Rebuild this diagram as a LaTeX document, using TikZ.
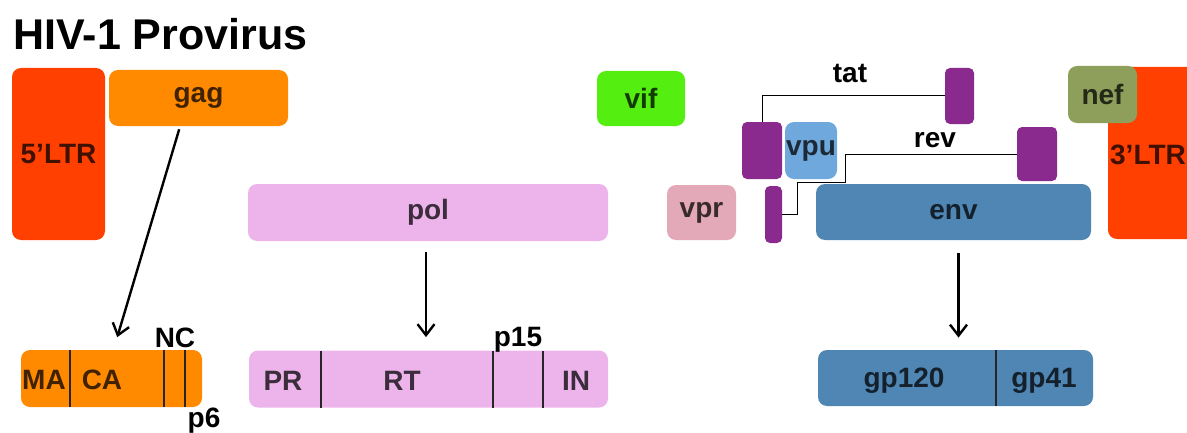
\documentclass[tikz,border=0pt]{standalone}
\usepackage{fontspec}
\setmainfont{Liberation Sans}
\usetikzlibrary{arrows.meta}
\definecolor{ltrred}{HTML}{FF4000}
\definecolor{gagorange}{HTML}{FF8A00}
\definecolor{vifgreen}{HTML}{55EE11}
\definecolor{polpink}{HTML}{EDB3EB}
\definecolor{vprpink}{HTML}{E3A9B9}
\definecolor{exonpurple}{HTML}{8B2A8E}
\definecolor{vpublue}{HTML}{6FA8DC}
\definecolor{envblue}{HTML}{5086B3}
\definecolor{nefolive}{HTML}{8E9F5C}

\begin{document}
\begin{tikzpicture}[x=0.5pt, y=-0.5pt,
    gene/.style={rounded corners=4.5pt, inner sep=0pt, fill=#1, text=#1!25!black,
        font=\bfseries\fontsize{14}{14}\selectfont},
    exon/.style={rounded corners=2.5pt, inner sep=0pt, fill=exonpurple},
    lbl/.style={inner sep=0pt, font=\bfseries\fontsize{14}{14}\selectfont},
    cut/.style={line width=1.1pt, draw=black!85},
    arr/.style={line width=1.2pt, -{Straight Barb[length=5.5pt,width=8.5pt]}},
    splice/.style={line width=0.5pt}]
    \clip (0,0) rectangle (1187,433);
    \node[lbl, anchor=base west, font=\bfseries\fontsize{21.5}{21.5}\selectfont] (title) at (13,50) {HIV-1 Provirus};
    \node[gene=ltrred, minimum width=46.5pt, minimum height=86pt] (ltr5) at (58.5,154) {5'LTR};
    \node[gene=gagorange, minimum width=89.5pt, minimum height=28pt] (gag) at (198.5,98) {gag};
    \node[gene=vifgreen, minimum width=44pt, minimum height=27.5pt] (vif) at (641,98.5) {vif};
    \node[gene=polpink, minimum width=180pt, minimum height=28.5pt] (pol) at (428,212.5) {pol};
    \node[gene=vprpink, minimum width=34.5pt, minimum height=27.5pt] (vpr) at (701.5,212.5) {vpr};
    \node[exon, minimum width=20pt, minimum height=28.5pt] (tat1) at (762,150.5) {};
    \node[gene=vpublue, minimum width=26pt, minimum height=28.5pt] (vpu) at (811,150.5) {vpu};
    \node[exon, minimum width=14.5pt, minimum height=28pt] (tat2) at (959.5,96) {};
    \node[exon, minimum width=8.5pt, minimum height=28.5pt] (rev1) at (773.5,214.5) {};
    \node[exon, minimum width=20pt, minimum height=27pt] (rev2) at (1037,154) {};
    \node[gene=envblue, minimum width=137.5pt, minimum height=28pt] (env) at (953.5,212) {env};
    \node[gene=ltrred, minimum width=48pt, minimum height=86pt] (ltr3) at (1156,153) {};
    \node[lbl, text=ltrred!25!black] (ltrthree) at (1148,155) {3'LTR};
    \node[gene=nefolive, minimum width=34.5pt, minimum height=28.5pt] (nef) at (1102.5,94.5) {nef};
    \node[lbl] (tatlbl) at (850,74) {tat};
    \node[lbl] (revlbl) at (935,140) {rev};
    \draw[splice] (tat1.north) |- (tat2.west);
    \draw[splice] (rev1.east) -| (797,182) -- (845,182) |- (rev2.west);

    \node[gene=gagorange, minimum width=90.5pt, minimum height=28.5pt] (gagprod) at (111.5,378.5) {};
    \draw[cut] (70,350) -- (70,407);
    \draw[cut] (164,350) -- (164,407);
    \draw[cut] (185,350) -- (185,407);
    \node[lbl, anchor=base, text=gagorange!25!black] (ma) at (44,389) {MA};
    \node[lbl, anchor=base, text=gagorange!25!black] (ca) at (102,389) {CA};
    \node[lbl, anchor=base] (nc) at (175,347) {NC};
    \node[lbl, anchor=base] (psix) at (204,427) {p6};

    \node[gene=polpink, minimum width=179.5pt, minimum height=28.5pt] (polprod) at (428.5,379) {};
    \draw[cut] (321,351) -- (321,408);
    \draw[cut] (493,351) -- (493,408);
    \draw[cut] (543,351) -- (543,408);
    \node[lbl, anchor=base, text=polpink!25!black] (pr) at (283,390) {PR};
    \node[lbl, anchor=base, text=polpink!25!black] (rt) at (402,390) {RT};
    \node[lbl, anchor=base] (pfifteen) at (518,346) {p15};
    \node[lbl, anchor=base, text=polpink!25!black] (in) at (576,390) {IN};

    \node[gene=envblue, minimum width=137.5pt, minimum height=28pt] (envprod) at (955.5,378) {};
    \draw[cut] (996,350) -- (996,406);
    \node[lbl, anchor=base, text=envblue!25!black] (gpone) at (904,387) {gp120};
    \node[lbl, anchor=base, text=envblue!25!black] (gpfour) at (1044,387) {gp41};

    \draw[arr, shorten <=1.5pt, shorten >=6.5pt] (gag.-123) -- (gagprod.86);
    \draw[arr, shorten <=5.5pt, shorten >=6.5pt] ([xshift=-1pt]pol.south) -- ([xshift=-1pt]pol.south |- polprod.north);
    \draw[arr, shorten <=6.5pt, shorten >=6pt] ([xshift=2.5pt]env.south) -- ([xshift=2.5pt]env.south |- envprod.north);
\end{tikzpicture}
\end{document}
